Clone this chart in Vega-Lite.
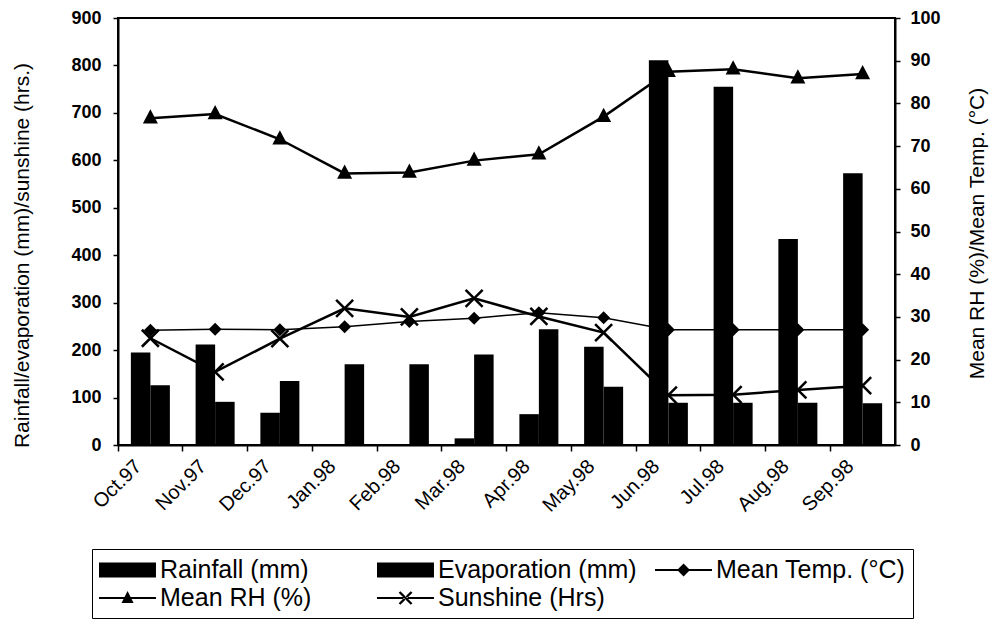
{
  "$schema": "https://vega.github.io/schema/vega-lite/v6.json",
  "width": 777,
  "height": 427,
  "autosize": {"type": "none"},
  "padding": {"left": 118, "top": 18, "right": 99, "bottom": 184},
  "background": "white",
  "config": {
    "font": "Liberation Sans",
    "view": {"stroke": "black", "strokeWidth": 2},
    "axis": {"domainColor": "black", "domainWidth": 2, "tickColor": "black", "tickWidth": 1.5, "labelColor": "black", "titleColor": "black", "grid": false}
  },
  "data": {"values": [
    {"month": "Oct.97", "series": "Rainfall (mm)", "value": 195},
    {"month": "Oct.97", "series": "Evaporation (mm)", "value": 126},
    {"month": "Oct.97", "series": "Mean Temp. (°C)", "value": 26.9},
    {"month": "Oct.97", "series": "Mean RH (%)", "value": 76.5},
    {"month": "Oct.97", "series": "Sunshine (Hrs)", "value": 225},
    {"month": "Nov.97", "series": "Rainfall (mm)", "value": 212},
    {"month": "Nov.97", "series": "Evaporation (mm)", "value": 91},
    {"month": "Nov.97", "series": "Mean Temp. (°C)", "value": 27.1},
    {"month": "Nov.97", "series": "Mean RH (%)", "value": 77.5},
    {"month": "Nov.97", "series": "Sunshine (Hrs)", "value": 154},
    {"month": "Dec.97", "series": "Rainfall (mm)", "value": 68},
    {"month": "Dec.97", "series": "Evaporation (mm)", "value": 135},
    {"month": "Dec.97", "series": "Mean Temp. (°C)", "value": 27.0},
    {"month": "Dec.97", "series": "Mean RH (%)", "value": 71.6},
    {"month": "Dec.97", "series": "Sunshine (Hrs)", "value": 224},
    {"month": "Jan.98", "series": "Rainfall (mm)", "value": 0},
    {"month": "Jan.98", "series": "Evaporation (mm)", "value": 170},
    {"month": "Jan.98", "series": "Mean Temp. (°C)", "value": 27.7},
    {"month": "Jan.98", "series": "Mean RH (%)", "value": 63.6},
    {"month": "Jan.98", "series": "Sunshine (Hrs)", "value": 288},
    {"month": "Feb.98", "series": "Rainfall (mm)", "value": 0},
    {"month": "Feb.98", "series": "Evaporation (mm)", "value": 170},
    {"month": "Feb.98", "series": "Mean Temp. (°C)", "value": 28.9},
    {"month": "Feb.98", "series": "Mean RH (%)", "value": 63.8},
    {"month": "Feb.98", "series": "Sunshine (Hrs)", "value": 270},
    {"month": "Mar.98", "series": "Rainfall (mm)", "value": 14},
    {"month": "Mar.98", "series": "Evaporation (mm)", "value": 191},
    {"month": "Mar.98", "series": "Mean Temp. (°C)", "value": 29.7},
    {"month": "Mar.98", "series": "Mean RH (%)", "value": 66.6},
    {"month": "Mar.98", "series": "Sunshine (Hrs)", "value": 309},
    {"month": "Apr.98", "series": "Rainfall (mm)", "value": 65},
    {"month": "Apr.98", "series": "Evaporation (mm)", "value": 244},
    {"month": "Apr.98", "series": "Mean Temp. (°C)", "value": 31.0},
    {"month": "Apr.98", "series": "Mean RH (%)", "value": 68.1},
    {"month": "Apr.98", "series": "Sunshine (Hrs)", "value": 271},
    {"month": "May.98", "series": "Rainfall (mm)", "value": 207},
    {"month": "May.98", "series": "Evaporation (mm)", "value": 123},
    {"month": "May.98", "series": "Mean Temp. (°C)", "value": 29.8},
    {"month": "May.98", "series": "Mean RH (%)", "value": 76.9},
    {"month": "May.98", "series": "Sunshine (Hrs)", "value": 237},
    {"month": "Jun.98", "series": "Rainfall (mm)", "value": 811},
    {"month": "Jun.98", "series": "Evaporation (mm)", "value": 89},
    {"month": "Jun.98", "series": "Mean Temp. (°C)", "value": 27.0},
    {"month": "Jun.98", "series": "Mean RH (%)", "value": 87.4},
    {"month": "Jun.98", "series": "Sunshine (Hrs)", "value": 105},
    {"month": "Jul.98", "series": "Rainfall (mm)", "value": 755},
    {"month": "Jul.98", "series": "Evaporation (mm)", "value": 89},
    {"month": "Jul.98", "series": "Mean Temp. (°C)", "value": 27.0},
    {"month": "Jul.98", "series": "Mean RH (%)", "value": 88.0},
    {"month": "Jul.98", "series": "Sunshine (Hrs)", "value": 106},
    {"month": "Aug.98", "series": "Rainfall (mm)", "value": 434},
    {"month": "Aug.98", "series": "Evaporation (mm)", "value": 89},
    {"month": "Aug.98", "series": "Mean Temp. (°C)", "value": 27.0},
    {"month": "Aug.98", "series": "Mean RH (%)", "value": 85.9},
    {"month": "Aug.98", "series": "Sunshine (Hrs)", "value": 116},
    {"month": "Sep.98", "series": "Rainfall (mm)", "value": 573},
    {"month": "Sep.98", "series": "Evaporation (mm)", "value": 88},
    {"month": "Sep.98", "series": "Mean Temp. (°C)", "value": 27.0},
    {"month": "Sep.98", "series": "Mean RH (%)", "value": 86.9},
    {"month": "Sep.98", "series": "Sunshine (Hrs)", "value": 125}
  ]},
  "layer": [
    {
      "encoding": {
        "x": {
          "field": "month", "type": "nominal",
          "sort": ["Oct.97", "Nov.97", "Dec.97", "Jan.98", "Feb.98", "Mar.98", "Apr.98", "May.98", "Jun.98", "Jul.98", "Aug.98", "Sep.98"],
          "scale": {"paddingInner": 0, "paddingOuter": 0},
          "axis": {"title": null, "labelAngle": -45, "labelAlign": "right", "labelBaseline": "middle", "labelFontSize": 20, "labelPadding": 18, "labelOffset": -12, "ticks": false, "tickSize": 0, "domain": true}
        },
        "y": {
          "field": "value", "type": "quantitative",
          "scale": {"domain": [0, 900], "nice": false},
          "axis": {
            "values": [0, 100, 200, 300, 400, 500, 600, 700, 800, 900],
            "title": "Rainfall/evaporation (mm)/sunshine (hrs.)",
            "titleFontSize": 21, "titleFontWeight": "normal",
            "titleX": -96, "titleY": 237, "titleAngle": 270, "titleAlign": "center", "titleBaseline": "middle",
            "labelFontSize": 18, "labelFontWeight": "bold", "labelPadding": 12, "tickSize": 5
          }
        }
      },
      "layer": [
        {
          "transform": [{"filter": {"field": "series", "oneOf": ["Rainfall (mm)", "Evaporation (mm)"]}}],
          "mark": {"type": "bar"},
          "encoding": {
            "xOffset": {"field": "series", "type": "nominal", "sort": ["Rainfall (mm)", "Evaporation (mm)"], "scale": {"paddingInner": 0, "paddingOuter": 0.66}},
            "color": {"value": "black"}
          }
        },
        {
          "transform": [{"filter": {"field": "series", "equal": "Sunshine (Hrs)"}}],
          "mark": {"type": "line", "color": "black", "strokeWidth": 2.5},
          "encoding": {}
        },
        {
          "transform": [{"filter": {"field": "series", "equal": "Sunshine (Hrs)"}}],
          "mark": {"type": "point", "shape": "M-1,-1L1,1M-1,1L1,-1", "filled": false, "color": "black", "strokeWidth": 2.5, "size": 289, "opacity": 1},
          "encoding": {}
        },
        {
          "mark": {"type": "point", "filled": true, "opacity": 0},
          "encoding": {
            "color": {"value": "black"},
            "shape": {
              "field": "series", "type": "nominal",
              "scale": {
                "domain": ["Rainfall (mm)", "Evaporation (mm)", "Mean Temp. (°C)", "Mean RH (%)", "Sunshine (Hrs)"],
                "range": [
                  "M-1,-0.54H3.07V0.54H-1Z",
                  "M-1,-0.54H3.07V0.54H-1Z",
                  "M-1,-0.07H3.07V0.07H-1ZM1.04,-0.46L1.5,0L1.04,0.46L0.58,0Z",
                  "M-1,-0.08H3.07V0.08H-1ZM1.04,-0.5L1.47,0.36L0.61,0.36Z",
                  "M-1,-0.08H3.07V0.08H-1ZM0.55,-0.37L0.67,-0.49L1.53,0.37L1.41,0.49ZM0.55,0.37L0.67,0.49L1.53,-0.37L1.41,-0.49Z"
                ]
              },
              "legend": {
                "orient": "none", "legendX": -26, "legendY": 531,
                "columns": 3, "direction": "horizontal", "title": null,
                "gridAlign": "all", "columnPadding": 18, "rowPadding": 1, "padding": 7,
                "strokeColor": "black",
                "labelFontSize": 25, "labelFont": "Liberation Sans", "labelColor": "black", "labelLimit": 400, "labelOffset": 33,
                "symbolSize": 784, "symbolFillColor": "black", "symbolStrokeColor": "black", "symbolStrokeWidth": 0, "symbolOpacity": 1,
                "encode": {"symbols": {"update": {"opacity": {"value": 1}, "fill": {"value": "black"}}}}
              }
            }
          }
        }
      ]
    },
    {
      "encoding": {
        "x": {
          "field": "month", "type": "nominal",
          "sort": ["Oct.97", "Nov.97", "Dec.97", "Jan.98", "Feb.98", "Mar.98", "Apr.98", "May.98", "Jun.98", "Jul.98", "Aug.98", "Sep.98"],
          "scale": {"paddingInner": 0, "paddingOuter": 0},
          "axis": {"orient": "bottom", "title": null, "labels": false, "domain": false, "ticks": true, "tickSize": 6, "bandPosition": 0}
        },
        "y": {
          "field": "value", "type": "quantitative",
          "scale": {"domain": [0, 100], "nice": false},
          "axis": {
            "orient": "right",
            "values": [0, 10, 20, 30, 40, 50, 60, 70, 80, 90, 100],
            "title": "Mean RH (%)/Mean Temp. (°C)",
            "titleFontSize": 21, "titleFontWeight": "normal",
            "titleX": 82, "titleY": 215, "titleAngle": 270, "titleAlign": "center", "titleBaseline": "middle",
            "labelFontSize": 18, "labelFontWeight": "bold", "labelPadding": 10, "tickSize": 5
          }
        }
      },
      "layer": [
        {
          "transform": [{"filter": {"field": "series", "equal": "Mean Temp. (°C)"}}],
          "mark": {"type": "line", "color": "black", "strokeWidth": 1.5},
          "encoding": {}
        },
        {
          "transform": [{"filter": {"field": "series", "equal": "Mean Temp. (°C)"}}],
          "mark": {"type": "point", "shape": "M0,-1L1,0L0,1L-1,0Z", "filled": true, "color": "black", "size": 169, "opacity": 1},
          "encoding": {}
        },
        {
          "transform": [{"filter": {"field": "series", "equal": "Mean RH (%)"}}],
          "mark": {"type": "line", "color": "black", "strokeWidth": 2.5},
          "encoding": {}
        },
        {
          "transform": [{"filter": {"field": "series", "equal": "Mean RH (%)"}}],
          "mark": {"type": "point", "shape": "M0,-1.2L1,0.7L-1,0.7Z", "filled": true, "color": "black", "size": 225, "opacity": 1},
          "encoding": {}
        }
      ]
    }
  ],
  "resolve": {"scale": {"y": "independent"}, "axis": {"x": "independent"}}
}
